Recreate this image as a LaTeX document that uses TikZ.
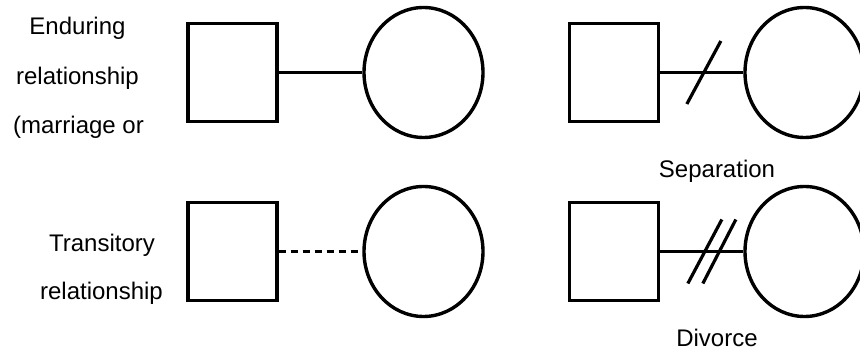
\documentclass[tikz,border=0pt]{standalone}
\usepackage{fontspec}
\setmainfont{Liberation Sans}
\usetikzlibrary{shapes.geometric}

\tikzset{
  male/.style={draw, line width=3.8pt, rectangle, inner sep=0pt,
               minimum width=89pt, minimum height=98pt},
  female/.style={draw, line width=3.4pt, ellipse, inner sep=0pt,
                 minimum width=119pt, minimum height=130pt},
  tie/.style={line width=3.4pt},
  loose/.style={line width=3.4pt, dash pattern=on 7pt off 5pt},
  cut/.style={line width=3.2pt},
  lbl/.style={anchor=base, inner sep=0pt, font=\fontsize{24}{28}\selectfont}
}

\begin{document}
\begin{tikzpicture}[x=1pt,y=1pt]
  \useasboundingbox (0,0) rectangle (860,356);
  \clip (0,0) rectangle (860,356);

  % left column: enduring and transitory relationships
  \node[male]   (sqA) at (232.5,283.5) {};
  \node[female] (ciA) at (423.5,283.5) {};
  \draw[tie] (sqA.east) -- (ciA.west);

  \node[male]   (sqB) at (232.5,104.5) {};
  \node[female] (ciB) at (423.5,104.5) {};
  \draw[loose] (sqB.east) -- (ciB.west);

  % right column: separation and divorce
  \node[male]   (sqC) at (614,283.5) {};
  \node[female] (ciC) at (804.5,283.5) {};
  \draw[tie] (sqC.east) -- (ciC.west) coordinate[pos=0.5] (mC);
  \draw[cut] ([shift={(-15,-31.5)}]mC) -- ([shift={(19,31.5)}]mC);

  \node[male]   (sqD) at (614,104.5) {};
  \node[female] (ciD) at (804.5,104.5) {};
  \draw[tie] (sqD.east) -- (ciD.west) coordinate[pos=0.5] (mD);
  \draw[cut] ([shift={(-14,-32)}]mD) -- ([shift={(20,32)}]mD);
  \draw[cut] ([shift={(1,-32)}]mD) -- ([shift={(34,32)}]mD);

  % labels
  \node[lbl] (t1) at (77.5,321) {Enduring};
  \node[lbl] (t2) at (77.5,271) {relationship};
  \node[lbl] (t3) at (78.5,222) {(marriage or};
  \node[lbl] (t4) at (102,104.5) {Transitory};
  \node[lbl] (t5) at (101.5,56) {relationship};
  \node[lbl] (t6) at (717,178) {Separation};
  \node[lbl] (t7) at (717,9) {Divorce};
\end{tikzpicture}
\end{document}
